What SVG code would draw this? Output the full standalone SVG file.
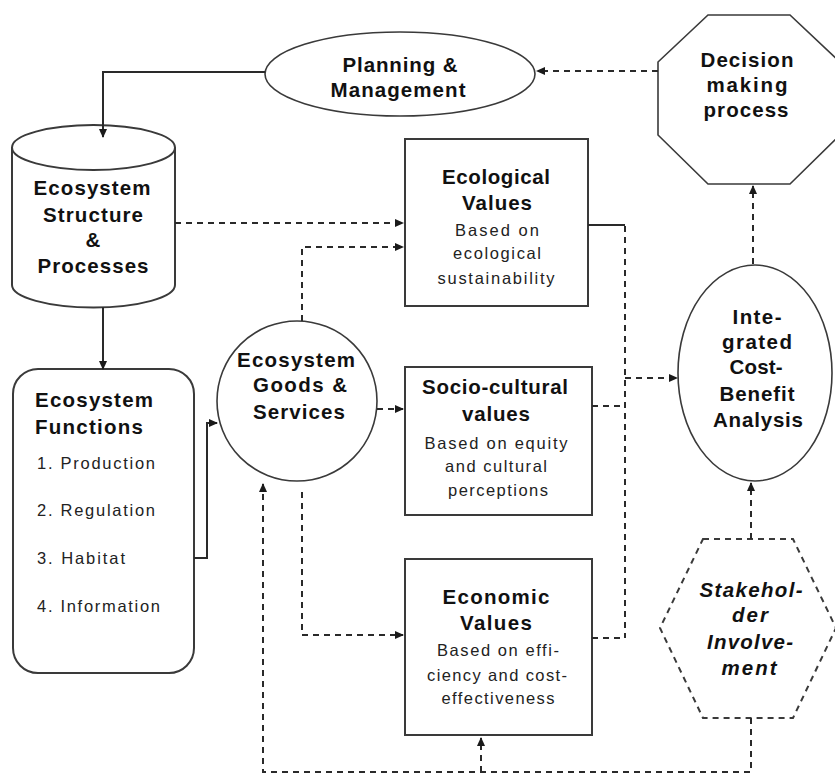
<svg xmlns="http://www.w3.org/2000/svg" width="835" height="776" viewBox="0 0 835 776">
  <style>
    .shape { fill: #ffffff; stroke: #3a3a3a; stroke-width: 2; }
    .thin { fill: #ffffff; stroke: #3a3a3a; stroke-width: 1.6; }
    .dashshape { fill: #ffffff; stroke: #3a3a3a; stroke-width: 2; stroke-dasharray: 6 5; }
    .solid { fill: none; stroke: #2a2a2a; stroke-width: 2; }
    .dash { fill: none; stroke: #2a2a2a; stroke-width: 2; stroke-dasharray: 6 5; }
    .t { font-family: "Liberation Sans", Arial, sans-serif; font-weight: bold; font-size: 20.5px; fill: #111; text-anchor: middle; }
    .s { font-family: "Liberation Sans", Arial, sans-serif; font-size: 16.5px; fill: #222; text-anchor: middle; }
    .l { text-anchor: start; }
    .i { font-style: italic; }
  </style>
  <defs>
    <marker id="arrow" markerWidth="9" markerHeight="8" refX="8" refY="4" orient="auto" markerUnits="userSpaceOnUse">
      <path d="M0,0 L9,4 L0,8 Z" fill="#1a1a1a"/>
    </marker>
  </defs>

  <!-- Planning & Management -->
  <g id="planning">
    <ellipse class="thin" cx="400" cy="74" rx="135" ry="42"/>
    <text class="t" x="400" y="72" textLength="115">Planning &amp;</text>
    <text class="t" x="398" y="97" textLength="135">Management</text>
  </g>

  <!-- Decision making process -->
  <g id="decision">
    <polygon class="thin" points="708,15 790,15 840,62 840,135 790,184 708,184 658,135 658,62"/>
    <text class="t" x="747" y="67" textLength="93">Decision</text>
    <text class="t" x="747" y="92" textLength="81">making</text>
    <text class="t" x="746" y="117" textLength="85">process</text>
  </g>

  <!-- Ecosystem Structure & Processes -->
  <g id="structure">
    <path class="shape" d="M12,147 V285 A81.5,22.5 0 0 0 175,285 V147"/>
    <ellipse class="shape" cx="93.5" cy="147.5" rx="81.5" ry="22.5"/>
    <text class="t" x="92" y="195" textLength="117">Ecosystem</text>
    <text class="t" x="93" y="222" textLength="100">Structure</text>
    <text class="t" x="93" y="247">&amp;</text>
    <text class="t" x="93" y="273" textLength="111">Processes</text>
  </g>

  <!-- Ecosystem Functions -->
  <g id="functions">
    <rect class="shape" x="13" y="369" width="181" height="304" rx="25" ry="25"/>
    <text class="t l" x="35" y="407" textLength="118">Ecosystem</text>
    <text class="t l" x="35" y="434" textLength="108">Functions</text>
    <text class="s l" x="37" y="469" textLength="118">1. Production</text>
    <text class="s l" x="37" y="516" textLength="118">2. Regulation</text>
    <text class="s l" x="37" y="564" textLength="88">3. Habitat</text>
    <text class="s l" x="37" y="612" textLength="123">4. Information</text>
  </g>

  <!-- Ecosystem Goods & Services -->
  <g id="goods">
    <circle class="thin" cx="297" cy="401" r="80"/>
    <text class="t" x="296" y="367" textLength="118">Ecosystem</text>
    <text class="t" x="300" y="392" textLength="94">Goods &amp;</text>
    <text class="t" x="299" y="419" textLength="92">Services</text>
  </g>

  <!-- Ecological Values -->
  <g id="ecological">
    <rect class="shape" x="405" y="139" width="183" height="167"/>
    <text class="t" x="496" y="184" textLength="108">Ecological</text>
    <text class="t" x="497" y="210" textLength="70">Values</text>
    <text class="s" x="497" y="236" textLength="84">Based on</text>
    <text class="s" x="497" y="259" textLength="88">ecological</text>
    <text class="s" x="496" y="284" textLength="117">sustainability</text>
  </g>

  <!-- Socio-cultural values -->
  <g id="sociocultural">
    <rect class="shape" x="405" y="367" width="187" height="148"/>
    <text class="t" x="495" y="394" textLength="146">Socio-cultural</text>
    <text class="t" x="496" y="421" textLength="68">values</text>
    <text class="s" x="496" y="449" textLength="143">Based on equity</text>
    <text class="s" x="496" y="472" textLength="102">and cultural</text>
    <text class="s" x="498" y="496" textLength="100">perceptions</text>
  </g>

  <!-- Economic Values -->
  <g id="economic">
    <rect class="shape" x="405" y="559" width="187" height="176"/>
    <text class="t" x="496" y="604" textLength="107">Economic</text>
    <text class="t" x="496" y="630" textLength="72">Values</text>
    <text class="s" x="498" y="656" textLength="122">Based on effi-</text>
    <text class="s" x="497" y="681" textLength="140">ciency and cost-</text>
    <text class="s" x="498" y="704" textLength="113">effectiveness</text>
  </g>

  <!-- Integrated Cost-Benefit Analysis -->
  <g id="costbenefit">
    <ellipse class="thin" cx="755" cy="373" rx="77" ry="108"/>
    <text class="t" x="757" y="324" textLength="49">Inte-</text>
    <text class="t" x="757" y="349" textLength="70">grated</text>
    <text class="t" x="756" y="374" textLength="53">Cost-</text>
    <text class="t" x="757" y="401" textLength="75">Benefit</text>
    <text class="t" x="758" y="427" textLength="90">Analysis</text>
  </g>

  <!-- Stakeholder Involvement -->
  <g id="stakeholder">
    <polygon class="dashshape" points="703,539 793,539 836,628 793,718 703,718 660,628"/>
    <text class="t i" x="751" y="597" textLength="103">Stakehol-</text>
    <text class="t i" x="750" y="622" textLength="36">der</text>
    <text class="t i" x="750" y="649" textLength="86">Involve-</text>
    <text class="t i" x="749" y="675" textLength="55">ment</text>
  </g>

  <!-- connectors (drawn last so arrowheads sit on top of the shapes) -->
  <g id="connectors">
    <path class="solid" d="M265,72 H103 V137" marker-end="url(#arrow)"/>
    <path class="solid" d="M103,307 V369" marker-end="url(#arrow)"/>
    <path class="solid" d="M194,558 H207 V423 H217" marker-end="url(#arrow)"/>
    <path class="dash" d="M175,223 H403" marker-end="url(#arrow)"/>
    <path class="dash" d="M302,321 V247 H403" marker-end="url(#arrow)"/>
    <path class="dash" d="M377,409 H403" marker-end="url(#arrow)"/>
    <path class="dash" d="M302,492 V635 H403" marker-end="url(#arrow)"/>
    <path class="solid" d="M588,225 H625"/>
    <path class="dash" d="M625,226 V638"/>
    <path class="dash" d="M592,406 H625"/>
    <path class="dash" d="M592,638 H625"/>
    <path class="dash" d="M625,378 H677" marker-end="url(#arrow)"/>
    <path class="dash" d="M753,264 V186" marker-end="url(#arrow)"/>
    <path class="dash" d="M658,71 H537" marker-end="url(#arrow)"/>
    <path class="dash" d="M751,539 V483" marker-end="url(#arrow)"/>
    <path class="dash" d="M751,718 V772 H263 V484" marker-end="url(#arrow)"/>
    <path class="dash" d="M481,772 V738" marker-end="url(#arrow)"/>
  </g>
</svg>
